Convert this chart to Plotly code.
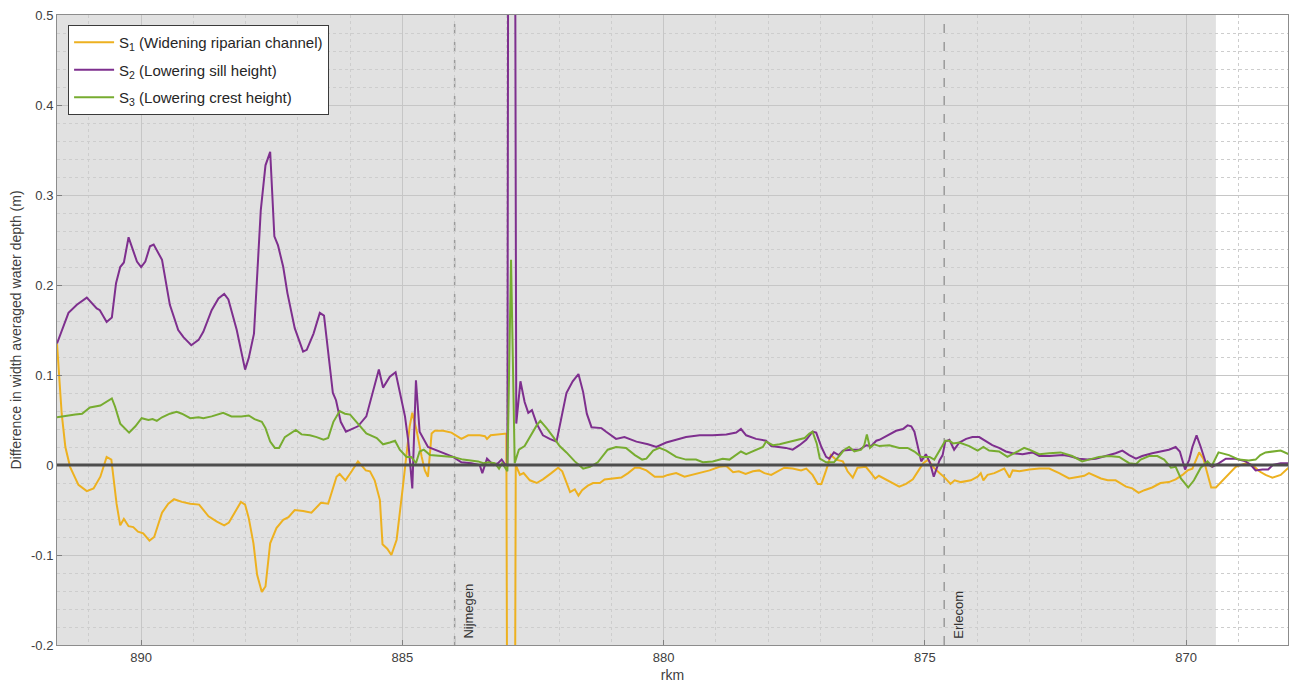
import plotly.graph_objects as go

# ---------------- data ----------------
s1_rkm = [891.61, 891.52, 891.45, 891.36, 891.20, 891.04, 890.91, 890.78, 890.66, 890.57,
          890.47, 890.40, 890.33, 890.24, 890.15, 890.06, 889.96, 889.84, 889.75, 889.60,
          889.48, 889.37, 889.22, 889.06, 888.89, 888.71, 888.55, 888.41, 888.32, 888.20,
          888.09, 888.01, 887.94, 887.85, 887.78, 887.69, 887.62, 887.53, 887.41, 887.28,
          887.18, 887.06, 886.90, 886.74, 886.56, 886.42, 886.26, 886.20, 886.09, 885.97,
          885.85, 885.70, 885.62, 885.53, 885.43, 885.38, 885.29, 885.21, 885.11, 884.99,
          884.92, 884.86, 884.81, 884.73, 884.63, 884.57, 884.51, 884.44, 884.38, 884.22,
          884.06, 883.97, 883.87, 883.74, 883.52, 883.42, 883.38, 883.31, 883.14, 883.01,
          882.98, 882.86, 882.83, 882.75, 882.68, 882.56, 882.43, 882.31, 882.15, 882.02,
          881.94, 881.86, 881.79, 881.70, 881.63, 881.56, 881.45, 881.35, 881.22, 881.13,
          880.97, 880.81, 880.68, 880.55, 880.46, 880.33, 880.17, 880.01, 879.92, 879.76,
          879.60, 879.47, 879.31, 879.12, 878.93, 878.80, 878.67, 878.56, 878.43, 878.29,
          878.17, 878.07, 877.94, 877.81, 877.69, 877.53, 877.37, 877.27, 877.15, 877.05,
          876.98, 876.89, 876.80, 876.70, 876.57, 876.48, 876.38, 876.29, 876.13, 876.03,
          875.95, 875.88, 875.74, 875.62, 875.49, 875.36, 875.23, 875.12, 875.03, 874.94,
          874.83, 874.72, 874.62, 874.51, 874.43, 874.31, 874.12, 873.99, 873.93, 873.88,
          873.80, 873.67, 873.48, 873.38, 873.32, 873.19, 873.00, 872.81, 872.62, 872.43,
          872.24, 872.05, 871.95, 871.86, 871.76, 871.63, 871.50, 871.35, 871.15, 871.03,
          870.91, 870.80, 870.65, 870.49, 870.33, 870.20, 870.07, 869.97, 869.88, 869.75,
          869.67, 869.59, 869.52, 869.43, 869.30, 869.24, 869.05, 868.86, 868.73, 868.60,
          868.48, 868.35, 868.19, 868.04]
s1_val = [0.135, 0.057, 0.020, -0.002, -0.022, -0.029, -0.026, -0.013, 0.009, 0.006,
          -0.043, -0.067, -0.060, -0.068, -0.069, -0.074, -0.076, -0.084, -0.080, -0.053,
          -0.043, -0.038, -0.041, -0.043, -0.044, -0.057, -0.063, -0.067, -0.064, -0.052,
          -0.041, -0.044, -0.059, -0.087, -0.122, -0.141, -0.135, -0.087, -0.070, -0.061,
          -0.058, -0.050, -0.051, -0.053, -0.042, -0.043, -0.013, -0.010, -0.017, -0.007,
          0.004, -0.006, -0.007, -0.017, -0.039, -0.088, -0.093, -0.100, -0.083, -0.024,
          0.009, 0.043, 0.058, 0.039, 0.009, -0.006, -0.013, 0.035, 0.038, 0.038,
          0.036, 0.033, 0.029, 0.033, 0.033, 0.032, 0.029, 0.033, 0.034, 0.035,
          -0.600, -0.600, 0.000, -0.011, -0.009, -0.017, -0.020, -0.016, -0.009, -0.003,
          -0.007, -0.020, -0.030, -0.027, -0.034, -0.028, -0.023, -0.020, -0.020, -0.016,
          -0.015, -0.014, -0.009, -0.003, -0.003, -0.006, -0.013, -0.013, -0.011, -0.009,
          -0.013, -0.011, -0.009, -0.006, -0.002, -0.001, -0.008, -0.007, -0.010, -0.007,
          -0.006, -0.009, -0.011, -0.007, -0.003, -0.004, -0.006, -0.004, -0.011, -0.021,
          -0.021, -0.006, 0.011, 0.006, 0.004, -0.007, -0.014, -0.003, -0.002, -0.009,
          -0.015, -0.012, -0.016, -0.020, -0.024, -0.021, -0.016, -0.006, 0.002, 0.006,
          -0.003, -0.009, -0.014, -0.021, -0.017, -0.019, -0.017, -0.013, -0.009, -0.017,
          -0.011, -0.009, -0.004, -0.014, -0.006, -0.007, -0.005, -0.004, -0.004, -0.009,
          -0.015, -0.013, -0.012, -0.009, -0.012, -0.015, -0.017, -0.017, -0.024, -0.026,
          -0.031, -0.028, -0.025, -0.020, -0.019, -0.016, -0.011, -0.006, -0.004, 0.014,
          0.007, -0.009, -0.025, -0.025, -0.017, -0.013, -0.002, 0.002, 0.000, -0.007,
          -0.011, -0.014, -0.011, -0.003]

s2_rkm = [891.61, 891.39, 891.23, 891.04, 890.85, 890.79, 890.66, 890.56, 890.48, 890.40,
          890.33, 890.24, 890.08, 890.00, 889.92, 889.83, 889.76, 889.60, 889.45, 889.29,
          889.19, 889.04, 888.90, 888.81, 888.65, 888.52, 888.41, 888.33, 888.17, 888.01,
          887.94, 887.84, 887.71, 887.62, 887.53, 887.45, 887.38, 887.28, 887.20, 887.06,
          886.90, 886.83, 886.70, 886.58, 886.50, 886.33, 886.27, 886.18, 886.08, 885.97,
          885.85, 885.69, 885.56, 885.45, 885.37, 885.24, 885.13, 884.95, 884.89, 884.81,
          884.74, 884.67, 884.51, 884.28, 884.03, 883.87, 883.68, 883.52, 883.47, 883.38,
          883.26, 883.17, 883.10, 883.04, 882.99, 882.97, 882.85, 882.82, 882.74, 882.66,
          882.59, 882.52, 882.43, 882.31, 882.18, 882.05, 881.96, 881.86, 881.74, 881.63,
          881.54, 881.47, 881.38, 881.19, 881.10, 880.91, 880.75, 880.52, 880.30, 880.14,
          879.95, 879.76, 879.57, 879.31, 879.06, 878.80, 878.61, 878.52, 878.42, 878.23,
          878.04, 877.94, 877.78, 877.66, 877.53, 877.40, 877.27, 877.15, 877.08, 876.98,
          876.89, 876.83, 876.74, 876.65, 876.57, 876.41, 876.25, 876.12, 876.03, 875.93,
          875.87, 875.71, 875.55, 875.42, 875.33, 875.26, 875.20, 875.07, 874.98, 874.90,
          874.83, 874.72, 874.66, 874.61, 874.53, 874.44, 874.34, 874.21, 874.09, 873.96,
          873.83, 873.71, 873.58, 873.45, 873.32, 873.13, 872.94, 872.81, 872.62, 872.36,
          872.24, 872.05, 871.89, 871.73, 871.54, 871.35, 871.22, 871.09, 870.96, 870.84,
          870.65, 870.46, 870.33, 870.20, 870.12, 870.02, 869.94, 869.88, 869.80, 869.72,
          869.62, 869.50, 869.37, 869.24, 869.05, 868.86, 868.76, 868.67, 868.54, 868.43,
          868.34, 868.19, 868.04]
s2_val = [0.135, 0.169, 0.178, 0.186, 0.174, 0.172, 0.159, 0.164, 0.202, 0.220,
          0.225, 0.253, 0.226, 0.220, 0.226, 0.243, 0.245, 0.228, 0.178, 0.150,
          0.142, 0.133, 0.139, 0.148, 0.172, 0.185, 0.190, 0.184, 0.150, 0.106,
          0.119, 0.146, 0.283, 0.333, 0.348, 0.254, 0.244, 0.220, 0.191, 0.152,
          0.126, 0.128, 0.146, 0.169, 0.166, 0.080, 0.072, 0.048, 0.037, 0.040,
          0.043, 0.054, 0.083, 0.106, 0.086, 0.098, 0.103, 0.054, 0.028, -0.026,
          0.094, 0.037, 0.020, 0.015, 0.009, 0.003, 0.002, 0.000, -0.009, 0.007,
          0.000, 0.002, 0.006, 0.001, 0.000, 0.800, 0.800, 0.046, 0.093, 0.070,
          0.058, 0.061, 0.046, 0.033, 0.029, 0.026, 0.050, 0.080, 0.093, 0.101,
          0.081, 0.057, 0.042, 0.041, 0.037, 0.029, 0.031, 0.026, 0.023, 0.020,
          0.025, 0.028, 0.031, 0.033, 0.033, 0.034, 0.036, 0.040, 0.033, 0.029,
          0.027, 0.021, 0.020, 0.019, 0.017, 0.022, 0.028, 0.037, 0.036, 0.020,
          0.009, 0.007, 0.014, 0.011, 0.016, 0.017, 0.017, 0.022, 0.021, 0.027,
          0.028, 0.033, 0.038, 0.040, 0.044, 0.043, 0.037, 0.004, 0.012, 0.002,
          -0.013, 0.005, 0.011, 0.026, 0.028, 0.017, 0.025, 0.029, 0.031, 0.031,
          0.026, 0.022, 0.019, 0.015, 0.013, 0.012, 0.014, 0.010, 0.010, 0.011,
          0.010, 0.007, 0.006, 0.007, 0.010, 0.013, 0.016, 0.011, 0.007, 0.010,
          0.013, 0.015, 0.017, 0.020, 0.015, -0.005, 0.006, 0.020, 0.033, 0.020,
          0.002, -0.002, 0.002, 0.007, 0.007, 0.004, 0.000, -0.006, -0.005, -0.005,
          0.000, 0.002, 0.002]

s3_rkm = [891.61, 891.45, 891.26, 891.13, 890.98, 890.78, 890.66, 890.56, 890.50, 890.40,
          890.23, 890.11, 889.99, 889.86, 889.78, 889.70, 889.60, 889.45, 889.32, 889.22,
          889.06, 888.90, 888.81, 888.65, 888.43, 888.27, 888.08, 887.94, 887.83, 887.69,
          887.62, 887.53, 887.44, 887.36, 887.25, 887.04, 886.93, 886.77, 886.64, 886.51,
          886.42, 886.32, 886.20, 886.10, 886.00, 885.85, 885.69, 885.49, 885.37, 885.24,
          885.14, 885.05, 884.92, 884.83, 884.74, 884.67, 884.59, 884.47, 884.22, 884.03,
          883.84, 883.55, 883.45, 883.36, 883.23, 883.15, 883.09, 882.99, 882.92, 882.85,
          882.83, 882.77, 882.66, 882.53, 882.43, 882.36, 882.24, 882.11, 881.99, 881.86,
          881.70, 881.54, 881.41, 881.26, 881.16, 881.07, 880.91, 880.72, 880.55, 880.41,
          880.33, 880.20, 880.08, 879.95, 879.76, 879.57, 879.38, 879.25, 879.06, 878.87,
          878.74, 878.61, 878.52, 878.42, 878.23, 878.10, 878.04, 877.91, 877.78, 877.59,
          877.40, 877.30, 877.21, 877.15, 877.07, 877.01, 876.89, 876.74, 876.64, 876.54,
          876.45, 876.35, 876.22, 876.16, 876.11, 876.05, 875.97, 875.87, 875.68, 875.49,
          875.33, 875.20, 875.07, 874.91, 874.82, 874.72, 874.61, 874.53, 874.46, 874.34,
          874.15, 873.99, 873.88, 873.77, 873.58, 873.42, 873.32, 873.10, 873.00, 872.81,
          872.62, 872.40, 872.18, 871.99, 871.86, 871.67, 871.48, 871.28, 871.09, 870.96,
          870.87, 870.71, 870.55, 870.42, 870.29, 870.20, 870.10, 869.96, 869.85, 869.72,
          869.59, 869.51, 869.38, 869.18, 868.99, 868.80, 868.67, 868.58, 868.48, 868.32,
          868.19, 868.04]
s3_val = [0.053, 0.054, 0.056, 0.057, 0.064, 0.066, 0.070, 0.074, 0.065, 0.046,
          0.036, 0.043, 0.052, 0.050, 0.051, 0.049, 0.053, 0.057, 0.059, 0.057,
          0.052, 0.053, 0.052, 0.054, 0.058, 0.054, 0.054, 0.055, 0.051, 0.048,
          0.041, 0.026, 0.019, 0.019, 0.031, 0.039, 0.034, 0.033, 0.031, 0.028,
          0.030, 0.048, 0.060, 0.057, 0.056, 0.046, 0.035, 0.030, 0.023, 0.025,
          0.027, 0.017, 0.009, 0.009, 0.002, 0.015, 0.017, 0.011, 0.010, 0.009,
          0.006, 0.004, 0.002, 0.003, 0.002, -0.004, 0.002, -0.007, 0.228, 0.002,
          0.006, 0.017, 0.021, 0.035, 0.044, 0.049, 0.041, 0.031, 0.021, 0.014,
          0.004, -0.004, -0.002, 0.003, 0.011, 0.017, 0.020, 0.019, 0.011, 0.006,
          0.007, 0.016, 0.019, 0.016, 0.009, 0.006, 0.006, 0.003, 0.004, 0.007,
          0.006, 0.011, 0.015, 0.012, 0.017, 0.020, 0.026, 0.022, 0.023, 0.026,
          0.029, 0.030, 0.035, 0.037, 0.024, 0.007, 0.003, 0.003, 0.010, 0.017,
          0.020, 0.015, 0.017, 0.022, 0.034, 0.019, 0.023, 0.021, 0.022, 0.019,
          0.019, 0.015, 0.009, 0.009, 0.006, 0.016, 0.027, 0.027, 0.024, 0.025,
          0.021, 0.016, 0.020, 0.016, 0.015, 0.009, 0.012, 0.019, 0.017, 0.012,
          0.013, 0.014, 0.010, 0.004, 0.006, 0.009, 0.010, 0.009, 0.002, 0.001,
          0.006, 0.010, 0.010, 0.006, -0.003, -0.002, -0.015, -0.025, -0.017, -0.003,
          0.004, -0.001, 0.014, 0.011, 0.006, 0.005, 0.006, 0.011, 0.014, 0.015,
          0.016, 0.012]

series_names = ["S<sub>1</sub> (Widening riparian channel)",
                "S<sub>2</sub> (Lowering sill height)",
                "S<sub>3</sub> (Lowering crest height)"]
series_colors = ["#EDB120", "#7E2F8E", "#77AC30"]

landmark_names = ["Nijmegen", "Erlecom"]
landmark_rkm = [884.0, 874.63]

shaded_rkm = [891.61, 869.43]          # grey study-reach patch
x_range = [891.61, 868.05]
y_range = [-0.2, 0.5]
x_ticks = [890, 885, 880, 875, 870]
y_ticks = [0.5, 0.4, 0.3, 0.2, 0.1, 0, -0.1, -0.2]
y_ticklabels = ["0.5", "0.4", "0.3", "0.2", "0.1", "0", "-0.1", "-0.2"]

# ---------------- figure ----------------
FONT = "Liberation Sans, Arial, sans-serif"
fig = go.Figure()

for i, (rk, vals, name, col) in enumerate(zip([s1_rkm, s2_rkm, s3_rkm],
                                             [s1_val, s2_val, s3_val],
                                             series_names, series_colors)):
    fig.add_trace(go.Scatter(x=rk, y=vals, mode="lines", name=name,
                             legendgroup="g%d" % i,
                             line=dict(color=col, width=2)))

shapes = [
    dict(type="rect", xref="x", yref="paper", x0=shaded_rkm[0], x1=shaded_rkm[1],
         y0=0, y1=1, fillcolor="#e1e1e1", line=dict(width=0), layer="below"),
    dict(type="line", xref="paper", yref="y", x0=0, x1=1, y0=0, y1=0,
         line=dict(color="#4d4d4d", width=3), layer="above"),
]
annotations = []
for nm, rk in zip(landmark_names, landmark_rkm):
    shapes.append(dict(type="line", xref="x", yref="paper", x0=rk, x1=rk, y0=0, y1=1,
                       line=dict(color="#9a9a9a", width=1.5, dash="dash"), layer="between"))
    annotations.append(dict(x=rk, y=0, xref="x", yref="paper", text=nm, showarrow=False,
                            textangle=-90, xanchor="left", yanchor="bottom",
                            xshift=4, yshift=4,
                            font=dict(family=FONT, size=13, color="#333333")))

fig.update_layout(
    width=1291, height=689,
    margin=dict(l=57, r=3, t=15, b=44),
    paper_bgcolor="white", plot_bgcolor="white",
    font=dict(family=FONT, size=13, color="#404040"),
    shapes=shapes, annotations=annotations,
    showlegend=True,
    legend=dict(x=0.009, y=0.984, xanchor="left", yanchor="top",
                bgcolor="white", bordercolor="#3a3a3a", borderwidth=1,
                font=dict(family=FONT, size=15, color="#262626"),
                tracegroupgap=5, itemwidth=40),
)
fig.update_xaxes(
    range=x_range, tickvals=x_ticks, ticks="inside", ticklen=5, tickcolor="#808080",
    showline=True, mirror=True, linecolor="#8c8c8c", linewidth=1,
    showgrid=True, gridcolor="#c6c6c6", gridwidth=1, zeroline=False,
    minor=dict(dtick=1, tick0=870, showgrid=True, gridcolor="#cdcdcd", griddash="dot", gridwidth=1),
    title=dict(text="rkm", standoff=6, font=dict(family=FONT, size=14, color="#404040")),
    tickfont=dict(family=FONT, size=13, color="#404040"),
)
fig.update_yaxes(
    range=y_range, tickvals=y_ticks, ticktext=y_ticklabels, ticks="inside", ticklen=5,
    tickcolor="#808080",
    showline=True, mirror=True, linecolor="#8c8c8c", linewidth=1,
    showgrid=True, gridcolor="#c6c6c6", gridwidth=1, zeroline=False,
    minor=dict(dtick=0.02, tick0=0, showgrid=True, gridcolor="#cdcdcd", griddash="dot", gridwidth=1),
    title=dict(text="Difference in width averaged water depth (m)", standoff=6,
               font=dict(family=FONT, size=14, color="#404040")),
    tickfont=dict(family=FONT, size=13, color="#404040"),
)

fig.write_html("out.html")
